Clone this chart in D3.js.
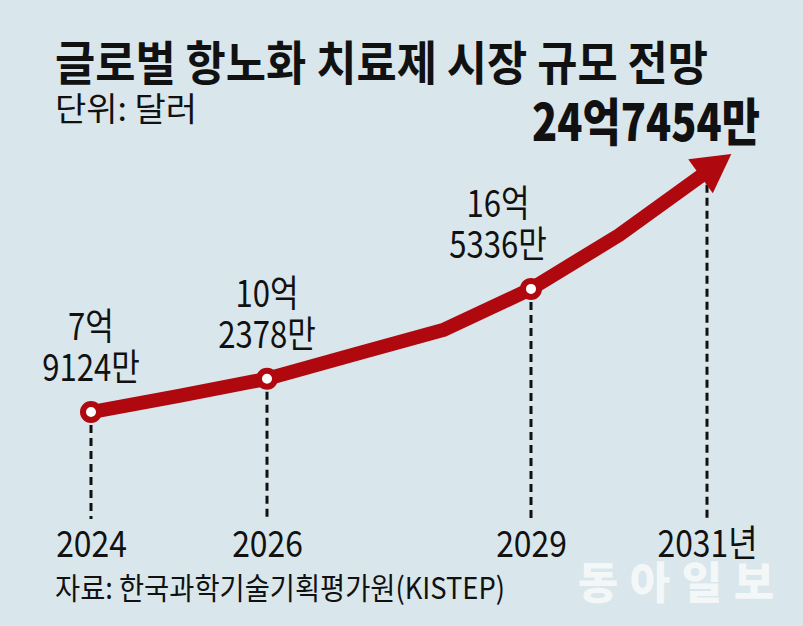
<!DOCTYPE html>
<html>
<head>
<meta charset="utf-8">
<script src="https://cdn.jsdelivr.net/npm/d3@7"></script>
<style>
  body { margin: 0; background: #d9e6eb; }
  svg { display: block; }
  text { font-family: "Noto Sans CJK KR", "Noto Sans", sans-serif; fill: #111; }
</style>
</head>
<body>
<div id="holder"></div>
<script>
// market size, 억 달러
const years = [2024, 2025, 2026, 2027, 2028, 2029, 2030, 2031];
const values = [7.9124, 9.05, 10.2378, 11.95, 13.65, 16.5336, 20.3, 24.7454];

const markYears = [2024, 2026, 2029];
const markTop = ['7억', '10억', '16억'];
const markBottom = ['9124만', '2378만', '5336만'];
const markShift = [0, 0, -33];

const tickYears = [2024, 2026, 2029, 2031];
const tickLabels = ['2024', '2026', '2029', '2031년'];

const bigLabel = '24억7454만';
const title = '글로벌 항노화 치료제 시장 규모 전망';
const unit = '단위: 달러';
const source = '자료: 한국과학기술기획평가원(KISTEP)';
const mark = ['동', '아', '일', '보'];

const w = 803;
const h = 626;
const red = '#b0080f';

const svg = d3.select('#holder')
    .append('svg')
    .attr('width', w)
    .attr('height', h);

svg.append('rect')
    .attr('width', w)
    .attr('height', h)
    .attr('fill', '#d9e6eb');

const xScale = d3.scaleLinear()
    .domain([2024, 2031])
    .range([91, 707]);

const yScale = d3.scaleLinear()
    .domain([0, 25])
    .range([525, 168]);

const valueOf = yr => values[years.indexOf(yr)];

// narrow the glyphs a bit, the original uses a condensed face
const squeeze = (sel, k) => {
    sel.each(function(){
        const len = this.getComputedTextLength();
        d3.select(this)
            .attr('textLength', len * k)
            .attr('lengthAdjust', 'spacingAndGlyphs');
    });
};

// titles
svg.append('text')
    .attr('x', 55).attr('y', 80)
    .style('font-size', '47px').style('font-weight', 700)
    .attr('textLength', 653)
    .attr('lengthAdjust', 'spacingAndGlyphs')
    .text(title);

svg.append('text')
    .attr('x', 55).attr('y', 121)
    .style('font-size', '33px')
    .attr('textLength', 142)
    .attr('lengthAdjust', 'spacingAndGlyphs')
    .text(unit);

// dashed guides
const guideTop = yr => yScale(valueOf(yr)) + 13;
svg.selectAll('.guide')
    .data(tickYears)
    .enter()
    .append('line')
    .attr('class', 'guide')
    .attr('x1', d => xScale(d))
    .attr('x2', d => xScale(d))
    .attr('y1', d => guideTop(d))
    .attr('y2', 519)
    .attr('stroke', '#111')
    .attr('stroke-width', 3)
    .attr('stroke-dasharray', '8,5');

// line
const pts = years.map((yr, i) => [xScale(yr), yScale(values[i])]);
svg.append('path')
    .datum(pts)
    .attr('d', d3.line())
    .attr('fill', 'none')
    .attr('stroke', red)
    .attr('stroke-width', 14)
    .attr('stroke-linejoin', 'round');

// arrow head
const p1 = pts[pts.length - 2];
const p2 = pts[pts.length - 1];
const len = Math.hypot(p2[0] - p1[0], p2[1] - p1[1]);
const ux = (p2[0] - p1[0]) / len;
const uy = (p2[1] - p1[1]) / len;
const tip = [p2[0] + ux * 30, p2[1] + uy * 30];
const base = [p2[0] - ux * 8, p2[1] - uy * 8];
const half = 21;
svg.append('path')
    .attr('d', d3.line()([
        tip,
        [base[0] - uy * half, base[1] + ux * half],
        [base[0] + uy * half, base[1] - ux * half]
    ]) + 'Z')
    .attr('fill', red);

// markers
svg.selectAll('.mark')
    .data(markYears)
    .enter()
    .append('circle')
    .attr('class', 'mark')
    .attr('cx', d => xScale(d))
    .attr('cy', d => yScale(valueOf(d)))
    .attr('r', 8)
    .attr('fill', '#fff')
    .attr('stroke', red)
    .attr('stroke-width', 6);

// value labels
const lab = svg.selectAll('.lab')
    .data(markYears)
    .enter()
    .append('g')
    .attr('class', 'lab')
    .attr('transform', (d, i) => 'translate(' + (xScale(d) + markShift[i]) + ',' + (yScale(valueOf(d)) - 31) + ')');

lab.append('text')
    .attr('y', -41)
    .attr('text-anchor', 'middle')
    .style('font-size', '37px')
    .text((_, i) => markTop[i])
    .call(squeeze, 0.84);

lab.append('text')
    .attr('y', 0)
    .attr('text-anchor', 'middle')
    .style('font-size', '37px')
    .text((_, i) => markBottom[i])
    .call(squeeze, 0.84);

svg.append('text')
    .attr('x', 646).attr('y', 141)
    .attr('text-anchor', 'middle')
    .style('font-size', '51px').style('font-weight', 900)
    .attr('textLength', 228)
    .attr('lengthAdjust', 'spacingAndGlyphs')
    .text(bigLabel);

// year axis
const xAxis = d3.axisBottom(xScale)
    .tickValues(tickYears)
    .tickFormat((_, i) => tickLabels[i])
    .tickSize(0)
    .tickPadding(0);

const ax = svg.append('g')
    .attr('transform', 'translate(0,557)')
    .call(xAxis);
ax.select('.domain').remove();
ax.selectAll('text')
    .attr('y', 0).attr('dy', 0)
    .style('font-size', '37px')
    .style('font-family', '"Noto Sans CJK KR", sans-serif')
    .attr('fill', '#111')
    .call(squeeze, 0.86);

// source
svg.append('text')
    .attr('x', 55).attr('y', 599)
    .style('font-size', '30px')
    .attr('textLength', 450)
    .attr('lengthAdjust', 'spacingAndGlyphs')
    .text(source);

// watermark, one glyph each so the gaps stay even
svg.selectAll('.wm')
    .data(mark)
    .enter()
    .append('text')
    .attr('class', 'wm')
    .attr('x', (_, i) => 598 + i * 52)
    .attr('y', 599)
    .attr('text-anchor', 'middle')
    .style('font-size', '44px').style('font-weight', 900)
    .style('fill', '#fff').style('fill-opacity', 0.7)
    .text(d => d);
</script>
</body>
</html>
